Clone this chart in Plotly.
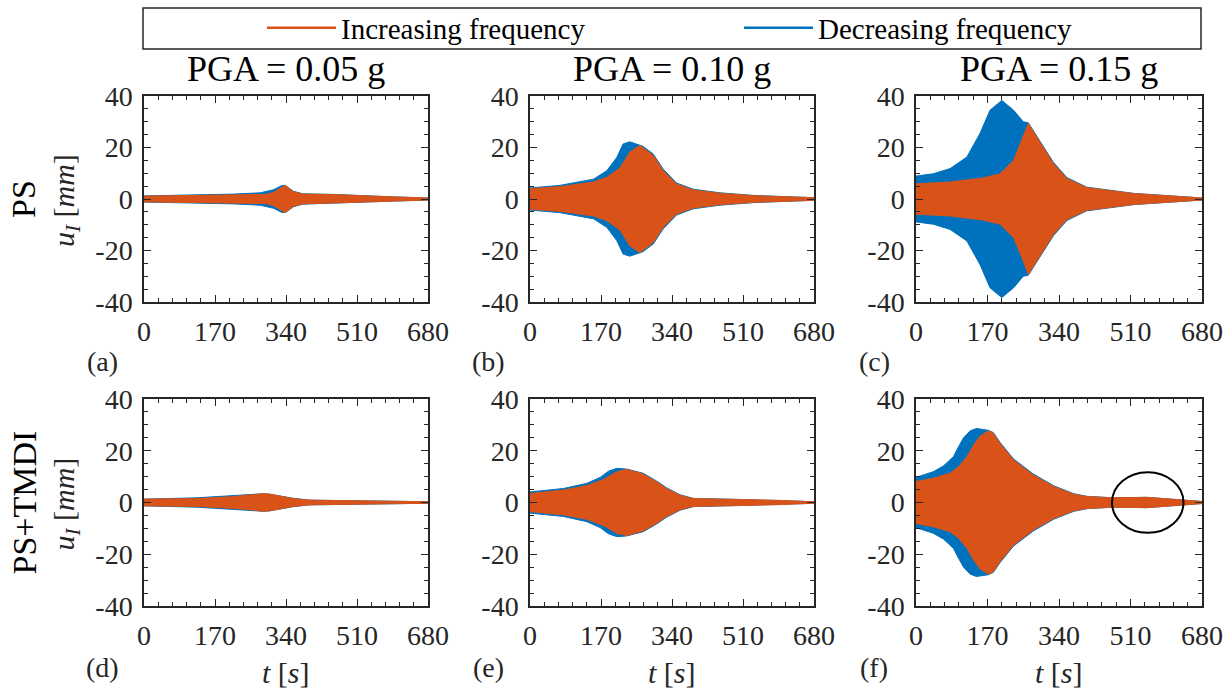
import plotly.graph_objects as go

# ---------------- data (envelope amplitudes, mm) ----------------
# Panel (a) PS, PGA = 0.05 g
a_inc_t = [0, 100, 200, 294, 310, 330, 338, 358, 381, 453, 533, 600, 680]
a_inc_u = [1.1, 1.3, 1.5, 1.8, 2.6, 4.5, 5.3, 2.8, 1.9, 1.7, 1.1, 0.8, 0.4]
a_dec_t = [0, 100, 214, 278, 310, 330, 338, 358, 381, 453, 533, 600, 680]
a_dec_u = [1.2, 1.5, 1.9, 2.4, 3.6, 5.2, 5.3, 3.0, 2.0, 1.8, 1.2, 0.8, 0.4]

# Panel (b) PS, PGA = 0.10 g
b_inc_t = [0, 72, 152, 184, 215, 239, 263, 295, 319, 351, 391, 455, 535, 680]
b_inc_u = [4.0, 4.8, 6.6, 8.4, 12.0, 18.2, 20.8, 16.9, 11.0, 5.8, 3.5, 2.2, 1.3, 0.5]
b_dec_t = [0, 72, 152, 184, 208, 223, 239, 255, 270, 295, 319, 351, 391, 455, 535, 680]
b_dec_u = [4.3, 5.3, 7.7, 11.0, 16.2, 21.4, 22.2, 21.4, 20.5, 17.5, 11.6, 6.2, 3.8, 2.4, 1.4, 0.5]

# Panel (c) PS, PGA = 0.15 g
c_inc_t = [0, 81, 160, 200, 232, 252, 267, 295, 327, 359, 406, 517, 680]
c_inc_u = [5.9, 6.6, 8.2, 9.8, 15.0, 22.8, 29.3, 22.0, 13.7, 7.9, 4.4, 2.1, 0.4]
c_dec_t = [0, 41, 81, 121, 152, 176, 204, 232, 255, 267, 295, 327, 359, 406, 517, 680]
c_dec_u = [8.9, 9.8, 11.8, 16.3, 25.4, 34.5, 38.3, 34.5, 30.0, 29.6, 22.4, 14.2, 8.3, 4.6, 2.2, 0.4]

# Panel (d) PS+TMDI, PGA = 0.05 g
d_inc_t = [0, 126, 206, 254, 286, 302, 326, 358, 398, 526, 680]
d_inc_u = [1.3, 1.5, 2.2, 2.8, 3.4, 3.2, 2.5, 1.5, 0.9, 0.65, 0.3]
d_dec_t = [0, 126, 206, 254, 286, 302, 326, 358, 398, 526, 680]
d_dec_u = [1.3, 1.8, 2.6, 3.1, 3.4, 3.2, 2.6, 1.6, 0.9, 0.65, 0.3]

# Panel (e) PS+TMDI, PGA = 0.10 g
e_inc_t = [0, 80, 136, 176, 208, 232, 271, 303, 327, 359, 391, 495, 583, 680]
e_inc_u = [3.5, 4.8, 6.5, 8.9, 11.9, 12.8, 11.0, 8.0, 5.4, 2.8, 1.5, 1.2, 0.9, 0.3]
e_dec_t = [0, 80, 136, 168, 188, 208, 232, 271, 303, 327, 359, 391, 495, 583, 680]
e_dec_u = [4.1, 5.4, 7.4, 9.7, 12.1, 13.2, 12.9, 11.3, 8.3, 5.7, 3.0, 1.6, 1.2, 0.9, 0.3]

# Panel (f) PS+TMDI, PGA = 0.15 g
f_inc_t = [0, 41, 81, 101, 121, 137, 152, 172, 184, 200, 232, 279, 327, 375, 406, 470, 549, 613, 680]
f_inc_u = [8.1, 9.4, 11.3, 13.8, 17.7, 22.2, 25.6, 27.7, 26.7, 22.8, 16.4, 10.6, 6.2, 3.2, 2.3, 1.8, 2.0, 1.3, 0.4]
f_dec_t = [0, 41, 65, 89, 101, 113, 129, 144, 160, 172, 184, 200, 232, 279, 327, 375, 406, 470, 549, 613, 680]
f_dec_u = [9.7, 11.9, 14.1, 17.7, 21.5, 25.0, 27.7, 28.6, 28.2, 27.9, 27.0, 23.2, 16.8, 11.0, 6.5, 3.4, 2.4, 1.8, 2.0, 1.3, 0.4]

panels = [
    (a_inc_t, a_inc_u, a_dec_t, a_dec_u),
    (b_inc_t, b_inc_u, b_dec_t, b_dec_u),
    (c_inc_t, c_inc_u, c_dec_t, c_dec_u),
    (d_inc_t, d_inc_u, d_dec_t, d_dec_u),
    (e_inc_t, e_inc_u, e_dec_t, e_dec_u),
    (f_inc_t, f_inc_u, f_dec_t, f_dec_u),
]

col_titles = ["PGA = 0.05 g", "PGA = 0.10 g", "PGA = 0.15 g"]
row_titles = ["PS", "PS+TMDI"]
panel_letters = ["(a)", "(b)", "(c)", "(d)", "(e)", "(f)"]
series_names = ["Increasing frequency", "Decreasing frequency"]
x_tickvals = [0, 170, 340, 510, 680]
x_ticktext = ["0", "170", "340", "510", "680"]
y_tickvals = [-40, -20, 0, 20, 40]
y_ticktext = ["-40", "-20", "0", "20", "40"]
ellipse_t = [466, 636]
ellipse_u = [-11.7, 11.7]

# ---------------- style ----------------
W, H = 1232, 691
ORANGE = "#D95319"
BLUE = "#0072BD"
AX = "#262626"
FONT = "Liberation Serif"

def px(x):
    return x / W

def py(y):
    return 1 - y / H

col_left = [144, 530, 916]
col_right = [428, 814, 1202]
row_top = [96, 399]
row_bot = [302, 606]

fig = go.Figure()

def envelope(t, u):
    xs = list(t) + list(t[::-1])
    ys = list(u) + [-v for v in u[::-1]]
    return xs, ys

for i, (ti, ui, td, ud) in enumerate(panels):
    ax = "" if i == 0 else str(i + 1)
    xd, yd = envelope(td, ud)
    fig.add_trace(go.Scatter(x=xd, y=yd, fill="toself", fillcolor=BLUE, mode="lines",
                             line=dict(color=BLUE, width=1), showlegend=False,
                             xaxis="x" + ax, yaxis="y" + ax, hoverinfo="skip"))
    xi, yi = envelope(ti, ui)
    fig.add_trace(go.Scatter(x=xi, y=yi, fill="toself", fillcolor=ORANGE, mode="lines",
                             line=dict(color=ORANGE, width=1), showlegend=False,
                             xaxis="x" + ax, yaxis="y" + ax, hoverinfo="skip"))

# legend entries
fig.add_trace(go.Scatter(x=[None], y=[None], mode="lines", name=series_names[0],
                         line=dict(color=ORANGE, width=2.5)))
fig.add_trace(go.Scatter(x=[None], y=[None], mode="lines", name=series_names[1],
                         line=dict(color=BLUE, width=2.5)))

layout = dict(
    width=W, height=H,
    margin=dict(l=0, r=0, t=0, b=0, autoexpand=False),
    paper_bgcolor="white", plot_bgcolor="white",
    font=dict(family=FONT, color=AX),
    legend=dict(orientation="h", x=px(262), xanchor="left", y=py(28), yanchor="middle",
                font=dict(size=29, family=FONT, color="black"),
                bgcolor="rgba(0,0,0,0)", borderwidth=0,
                entrywidth=393, entrywidthmode="pixels", itemwidth=69),
    shapes=[dict(type="rect", xref="paper", yref="paper",
                 x0=px(143), x1=px(1201), y0=py(49), y1=py(8),
                 line=dict(color=AX, width=1.5), fillcolor="rgba(0,0,0,0)")],
    annotations=[],
)

for i in range(6):
    r, c = divmod(i, 3)
    sfx = "" if i == 0 else str(i + 1)
    layout["xaxis" + sfx] = dict(
        domain=[px(col_left[c]), px(col_right[c])], anchor="y" + sfx, range=[0, 680],
        tickvals=x_tickvals, ticktext=x_ticktext, ticks="inside", ticklen=7, tickwidth=1.2,
        tickcolor=AX, showline=True, linecolor=AX, linewidth=1.5, mirror="allticks",
        showgrid=False, zeroline=False, tickfont=dict(size=28, family=FONT, color=AX),
        ticklabelstandoff=4,
        minor=dict(dtick=34, tick0=0, ticks="inside", ticklen=4, tickwidth=1, tickcolor=AX, showgrid=False),
    )
    layout["yaxis" + sfx] = dict(
        domain=[py(row_bot[r]), py(row_top[r])], anchor="x" + sfx, range=[-40, 40],
        tickvals=y_tickvals, ticktext=y_ticktext, ticks="inside", ticklen=7, tickwidth=1.2,
        tickcolor=AX, showline=True, linecolor=AX, linewidth=1.5, mirror="allticks",
        showgrid=False, zeroline=False, tickfont=dict(size=28, family=FONT, color=AX),
        ticklabelstandoff=4,
        minor=dict(dtick=5, tick0=0, ticks="inside", ticklen=4, tickwidth=1, tickcolor=AX, showgrid=False),
    )
    layout["annotations"].append(dict(
        text=panel_letters[i], xref="paper", yref="paper", showarrow=False,
        x=px(col_left[c] - 42), y=py([362, 667][r]), xanchor="center", yanchor="middle",
        font=dict(size=28, family=FONT, color=AX)))

for c in range(3):
    cx = (col_left[c] + col_right[c]) / 2
    layout["annotations"].append(dict(
        text=col_titles[c], xref="paper", yref="paper", showarrow=False,
        x=px(cx), y=py(69), xanchor="center", yanchor="middle",
        font=dict(size=36, family=FONT, color="black")))
    layout["annotations"].append(dict(
        text="<i>t</i> [<i>s</i>]", xref="paper", yref="paper", showarrow=False,
        x=px(cx), y=py(672), xanchor="center", yanchor="middle",
        font=dict(size=30, family=FONT, color=AX)))

for r in range(2):
    cy = (row_top[r] + row_bot[r]) / 2
    layout["annotations"].append(dict(
        text=row_titles[r], xref="paper", yref="paper", showarrow=False, textangle=-90,
        x=px(24), y=py(cy), xanchor="center", yanchor="middle",
        font=dict(size=34, family=FONT, color="black")))
    layout["annotations"].append(dict(
        text="<i>u<sub>I</sub></i> [<i>mm</i>]", xref="paper", yref="paper", showarrow=False,
        textangle=-90, x=px(66), y=py(cy + 2), xanchor="center", yanchor="middle",
        font=dict(size=30, family=FONT, color=AX)))

layout["shapes"].append(dict(type="circle", xref="x6", yref="y6",
                             x0=ellipse_t[0], x1=ellipse_t[1], y0=ellipse_u[0], y1=ellipse_u[1],
                             line=dict(color="black", width=2)))

fig.update_layout(**layout)
fig.write_html("out.html", config={"displayModeBar": False},
               post_script="document.body.style.margin='0px';document.body.style.overflow='hidden';")
